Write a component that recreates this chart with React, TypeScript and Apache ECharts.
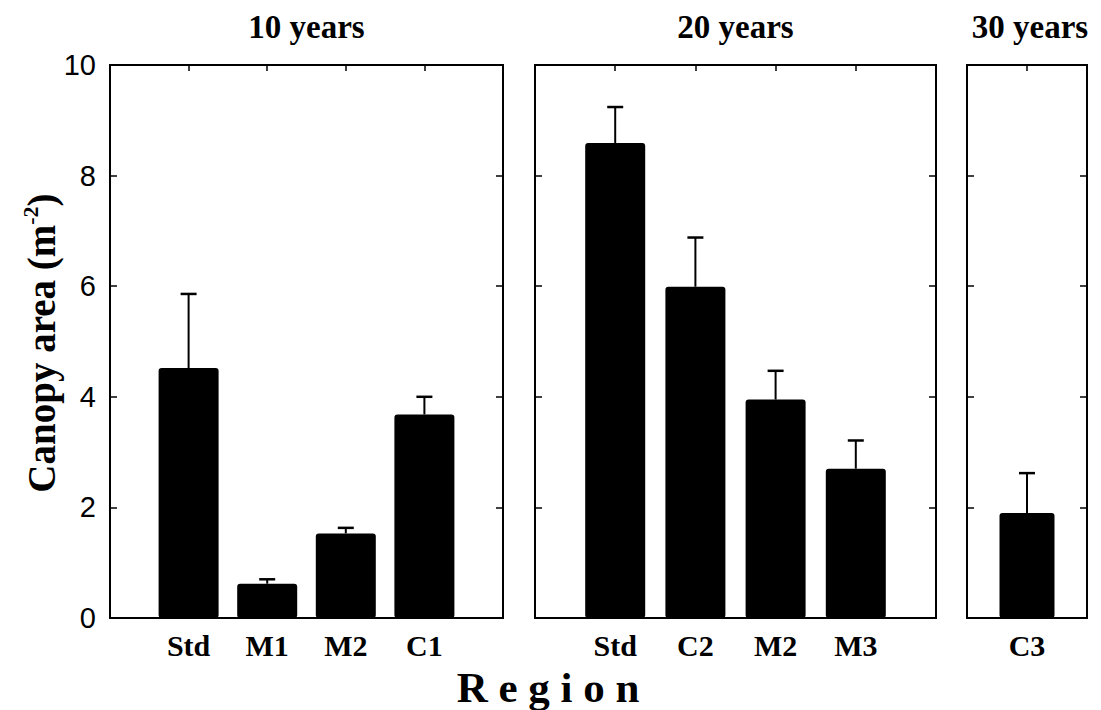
import React, { useEffect, useRef } from 'react';
import * as echarts from 'echarts';

// Panel headings
const groupTitles = ['10 years', '20 years', '30 years'];

// 10-year regions
const regions10 = ['Std', 'M1', 'M2', 'C1'];
const mean10 = [4.52, 0.62, 1.53, 3.68];
const upper10 = [5.86, 0.7, 1.63, 4.0];

// 20-year regions
const regions20 = ['Std', 'C2', 'M2', 'M3'];
const mean20 = [8.59, 5.99, 3.95, 2.7];
const upper20 = [9.24, 6.88, 4.47, 3.21];

// 30-year regions
const regions30 = ['C3'];
const mean30 = [1.9];
const upper30 = [2.62];

// Canopy area axis
const yMin = 0;
const yMax = 10;
const yStep = 2;

const groups = [
  { cats: regions10, mean: mean10, upper: upper10 },
  { cats: regions20, mean: mean20, upper: upper20 },
  { cats: regions30, mean: mean30, upper: upper30 },
];

const gridBoxes = [
  { left: 110, width: 393 },
  { left: 535, width: 401 },
  { left: 967, width: 120 },
];
const gridTop = 65;
const gridHeight = 553;
const barWidths = [60, 60, 55];

const serif = '"Liberation Serif", "Times New Roman", serif';
const sans = '"Liberation Sans", Arial, sans-serif';

const tickStyle = { color: '#000', width: 1.5 };

export default function App() {
  const ref = useRef<HTMLDivElement>(null);

  useEffect(() => {
    if (!ref.current) return;
    const chart = echarts.init(ref.current, null, { renderer: 'svg' });

    const grid: any[] = [];
    const xAxis: any[] = [];
    const yAxis: any[] = [];
    const series: any[] = [];
    const graphic: any[] = [];

    groups.forEach((g, i) => {
      const box = gridBoxes[i];
      grid.push({
        left: box.left,
        top: gridTop,
        width: box.width,
        height: gridHeight,
        show: true,
        borderColor: '#000',
        borderWidth: 2,
        backgroundColor: 'transparent',
      });
      const xMax = g.cats.length + 1;
      // bottom axis carries the region names
      xAxis.push({
        type: 'value',
        gridIndex: i,
        position: 'bottom',
        min: 0,
        max: xMax,
        interval: 1,
        axisLine: { show: false, onZero: false },
        axisTick: { show: false },
        splitLine: { show: false },
        axisLabel: {
          formatter: (v: number) => g.cats[Math.round(v) - 1] ?? '',
          fontFamily: serif,
          fontWeight: 'bold',
          fontSize: 30,
          color: '#000',
          margin: 12,
        },
      });
      // top axis carries inward ticks only
      xAxis.push({
        type: 'value',
        gridIndex: i,
        position: 'top',
        min: 0,
        max: xMax,
        interval: 1,
        axisLine: { show: false, onZero: false },
        axisTick: { show: true, inside: true, length: 6, lineStyle: tickStyle },
        axisLabel: { show: false },
        splitLine: { show: false },
      });
      yAxis.push({
        type: 'value',
        gridIndex: i,
        position: 'left',
        min: yMin,
        max: yMax,
        interval: yStep,
        axisLine: { show: false, onZero: false },
        axisTick: { show: true, inside: true, length: 7, lineStyle: tickStyle },
        splitLine: { show: false },
        axisLabel: {
          show: i === 0,
          fontFamily: sans,
          fontSize: 29,
          color: '#000',
          margin: 14,
        },
      });
      yAxis.push({
        type: 'value',
        gridIndex: i,
        position: 'right',
        min: yMin,
        max: yMax,
        interval: yStep,
        axisLine: { show: false, onZero: false },
        axisTick: { show: true, inside: true, length: 7, lineStyle: tickStyle },
        splitLine: { show: false },
        axisLabel: { show: false },
      });

      series.push({
        type: 'bar',
        xAxisIndex: 2 * i,
        yAxisIndex: 2 * i,
        barWidth: barWidths[i],
        data: g.cats.map((_, k) => [k + 1, g.mean[k]]),
        itemStyle: { color: '#000', borderRadius: 3 },
        z: 2,
      });
      series.push({
        type: 'custom',
        xAxisIndex: 2 * i,
        yAxisIndex: 2 * i,
        encode: { x: 0, y: [1, 2] },
        data: g.cats.map((_, k) => [k + 1, g.mean[k], g.upper[k]]),
        z: 3,
        renderItem: (_params: any, api: any) => {
          const x = api.value(0);
          const base = api.coord([x, api.value(1)]);
          const top = api.coord([x, api.value(2)]);
          return {
            type: 'group',
            children: [
              {
                type: 'line',
                shape: { x1: top[0], y1: base[1], x2: top[0], y2: top[1] },
                style: { stroke: '#000', lineWidth: 2 },
              },
              {
                type: 'line',
                shape: { x1: top[0] - 8, y1: top[1], x2: top[0] + 8, y2: top[1] },
                style: { stroke: '#000', lineWidth: 2.5 },
              },
            ],
          };
        },
      });

      graphic.push({
        type: 'text',
        x: box.left + box.width / 2 + (i === 2 ? 3 : 0),
        y: 27,
        style: {
          text: groupTitles[i],
          textAlign: 'center',
          textVerticalAlign: 'middle',
          fontFamily: serif,
          fontWeight: 'bold',
          fontSize: 33,
          fill: '#000',
        },
      });
    });

    graphic.push({
      type: 'text',
      x: 548,
      y: 687,
      style: {
        text: 'R e g i o n',
        textAlign: 'center',
        textVerticalAlign: 'middle',
        fontFamily: serif,
        fontWeight: 'bold',
        fontSize: 43,
        fill: '#000',
      },
    });

    graphic.push({
      type: 'text',
      x: 41,
      y: 343,
      rotation: Math.PI / 2,
      style: {
        text: '{a|Canopy area (m}{s|-2}{a|)}',
        textAlign: 'center',
        textVerticalAlign: 'middle',
        fill: '#000',
        rich: {
          a: { fontFamily: serif, fontWeight: 'bold', fontSize: 39, lineHeight: 44, fill: '#000' },
          s: { fontFamily: serif, fontWeight: 'bold', fontSize: 22, lineHeight: 44, verticalAlign: 'top', fill: '#000' },
        },
      },
    });

    chart.setOption({
      animation: false,
      backgroundColor: '#fff',
      grid,
      xAxis,
      yAxis,
      series,
      graphic,
    });

    return () => chart.dispose();
  }, []);

  return (
    <div
      ref={ref}
      style={{ position: 'fixed', left: 0, top: 0, width: 1101, height: 710, background: '#fff' }}
    />
  );
}
